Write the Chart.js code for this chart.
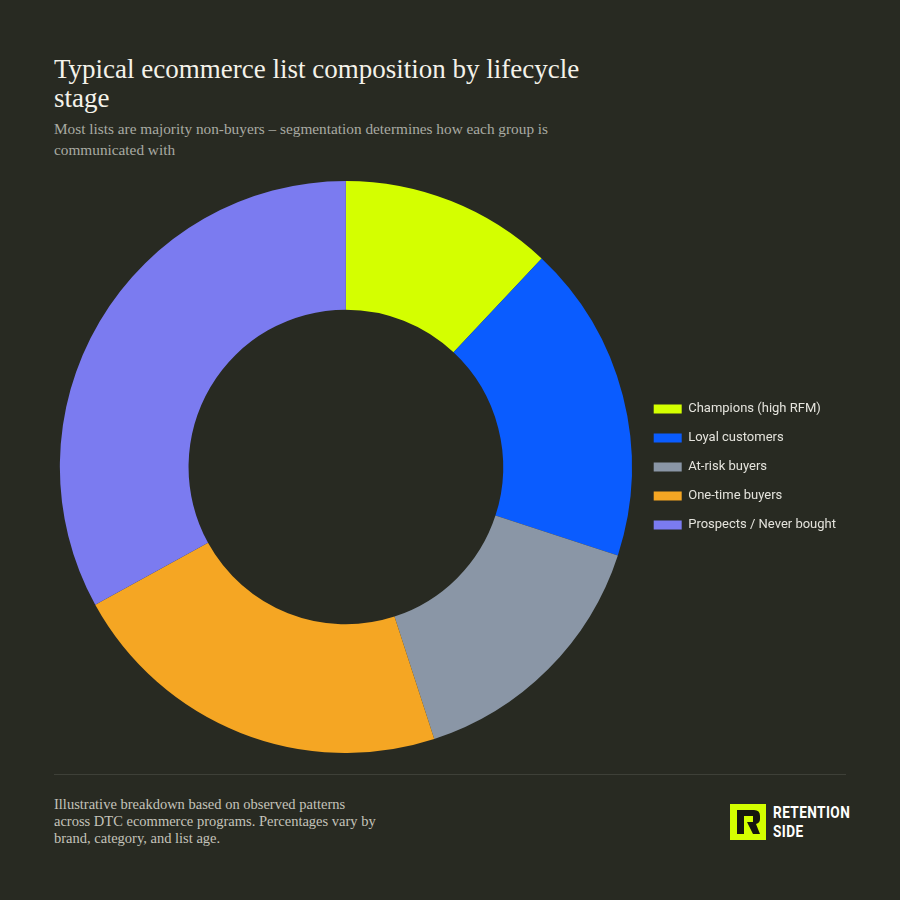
<!DOCTYPE html>
<html lang="en">
<head>
  <meta charset="UTF-8">
  <title>Typical ecommerce list composition by lifecycle stage</title>
  <script src="https://cdn.jsdelivr.net/npm/chart.js"></script>
  <style>
    body {
      margin: 0;
      width: 900px;
      height: 900px;
      background: #282a22;
      position: relative;
      overflow: hidden;
    }
    h1 {
      position: absolute;
      left: 54px;
      top: 55px;
      width: 560px;
      margin: 0;
      font-family: "Liberation Serif", "DejaVu Serif", serif;
      font-weight: normal;
      font-size: 27px;
      line-height: 29px;
      color: #f4f2ea;
    }
    .sub {
      position: absolute;
      left: 54px;
      top: 118px;
      width: 520px;
      margin: 0;
      font-family: "Liberation Serif", serif;
      font-size: 15.3px;
      line-height: 21px;
      color: #a9aaa2;
    }
    #chartBox {
      position: absolute;
      left: 54px;
      top: 181px;
      width: 792px;
      height: 572px;
    }
    .rule {
      position: absolute;
      left: 54px;
      top: 774px;
      width: 792px;
      height: 1px;
      background: #3e4038;
    }
    .note {
      position: absolute;
      left: 54px;
      top: 796px;
      width: 360px;
      margin: 0;
      font-family: "Liberation Serif", serif;
      font-size: 14.5px;
      line-height: 17px;
      color: #c4c3ba;
      white-space: nowrap;
    }
    .logo {
      position: absolute;
      left: 730px;
      top: 803px;
      display: flex;
      align-items: center;
    }
    .mark {
      width: 36px;
      height: 36px;
      background: #d4ff00;
      position: relative;
    }
    .brand {
      margin-left: 7px;
      font-family: "Roboto", "Liberation Sans", sans-serif;
      font-weight: bold;
      font-size: 16px;
      line-height: 19px;
      color: #ffffff;
      transform: scaleX(0.85);
      transform-origin: left center;
      letter-spacing: 0.5px;
    }
  </style>
</head>
<body>
  <h1>Typical ecommerce list composition by lifecycle stage</h1>
  <p class="sub">Most lists are majority non-buyers – segmentation determines how each group is communicated with</p>

  <div id="chartBox"><canvas id="donut"></canvas></div>

  <div class="rule"></div>
  <p class="note">Illustrative breakdown based on observed patterns<br>across DTC ecommerce programs. Percentages vary by<br>brand, category, and list age.</p>
  <div class="logo">
    <div class="mark">
      <svg width="36" height="36" viewBox="0 0 36 36">
        <path d="M7 6 H24 Q30 6 30 12 V15 Q30 19 26 20 L30 30 H23 L17 18 H23 V12 H14 V30 H7 Z" fill="#16170f"/>
      </svg>
    </div>
    <div class="brand">RETENTION<br>SIDE</div>
  </div>

  <script>
    const segments = ['Champions (high RFM)', 'Loyal customers', 'At-risk buyers', 'One-time buyers', 'Prospects / Never bought'];
    const shares = [12, 18, 15, 22, 33];
    const colors = ['#d4ff00', '#0a5cff', '#8a96a6', '#f5a623', '#7b7bf0'];

    new Chart(document.getElementById('donut'), {
      type: 'doughnut',
      data: {
        labels: segments,
        datasets: [{
          data: shares,
          backgroundColor: colors,
          borderWidth: 0
        }]
      },
      options: {
        responsive: true,
        maintainAspectRatio: false,
        animation: false,
        cutout: '55%',
        layout: { padding: 0 },
        plugins: {
          legend: {
            position: 'right',
            align: 'center',
            labels: {
              color: '#e4e3dc',
              boxWidth: 28,
              boxHeight: 9,
              padding: 16,
              font: { family: 'Roboto, "Liberation Sans", sans-serif', size: 13 }
            }
          },
          tooltip: { enabled: false }
        }
      }
    });
  </script>
</body>
</html>
